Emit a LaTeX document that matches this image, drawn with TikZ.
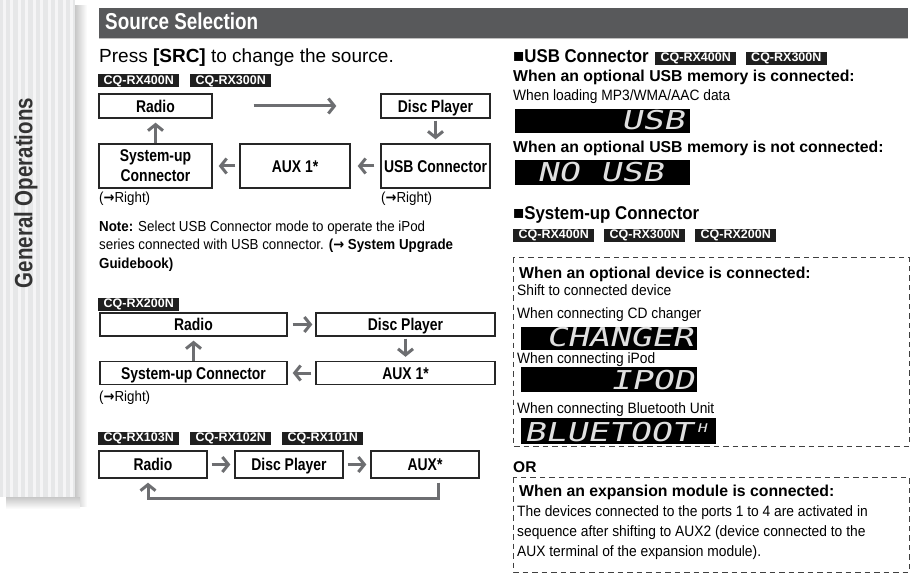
\documentclass[tikz,border=0pt]{standalone}
\usepackage{fontspec}
\setmainfont{Liberation Sans}
\newfontfamily\cond[FakeStretch=0.82]{Liberation Sans}
\newfontfamily\bodyf[FakeStretch=0.92]{Liberation Sans}
\newfontfamily\headf[FakeStretch=0.91]{Liberation Sans}
\newfontfamily\arrf[FakeStretch=0.9]{DejaVu Sans}
\newfontfamily\lcdf[FakeStretch=1.34,FakeSlant=0.22]{DejaVu Sans Mono}
\newcommand{\rarr}{{\arrf\bfseries →}}
\usetikzlibrary{arrows.meta}
\definecolor{hdr}{HTML}{58595B}
\definecolor{arr}{HTML}{6D6E71}
\definecolor{strA}{HTML}{E6E7E8}
\definecolor{strB}{HTML}{F5F5F6}
\tikzset{
  sbox/.style={draw=black!85, line width=1.4pt, fill=white, inner sep=0pt, align=center,
    font=\cond\bfseries\fontsize{17}{20}\selectfont},
  one/.style={text height=12.2pt, text depth=0pt},
  garr/.style={draw=arr, line width=3pt, -{Straight Barb[length=6pt,width=15pt]}},
  tag/.style={fill=black!88, text=white, font=\bfseries\fontsize{12.5}{12.5}\selectfont,
    inner xsep=5.5pt, inner ysep=0pt, minimum height=13pt, anchor=west},
  body/.style={anchor=base west, inner sep=0pt, font=\bodyf\fontsize{14.5}{17}\selectfont},
  rbody/.style={anchor=base west, inner sep=0pt, font=\bodyf\fontsize{15}{17}\selectfont},
  bbold/.style={anchor=base west, inner sep=0pt, font=\bfseries\fontsize{15.8}{18}\selectfont},
  rhead/.style={anchor=base west, inner sep=0pt, font=\headf\bfseries\fontsize{18.5}{20}\selectfont},
  lcdbar/.style={fill=black, draw=none, inner sep=0pt, anchor=north west},
  lcd/.style={anchor=base west, inner sep=0pt, text=white!88!black, font=\lcdf\fontsize{26}{26}\selectfont},
  dbox/.style={draw=black!75, line width=1pt, dash pattern=on 5.5pt off 4pt},
}
\begin{document}
\begin{tikzpicture}[x=1pt,y=-1pt]
\useasboundingbox (0,0) rectangle (910,588);
\fill[white] (0,0) rectangle (910,588);
% left strip
\shade[left color=black!22, right color=white] (75,6) rectangle (87,506);
\shade[top color=black!22, bottom color=white] (6,497) rectangle (80,509);
\fill[strA] (0,0) rectangle (75,497);
\foreach \i in {0,...,9} \fill[strB] (\i*7.5+2.5,0) rectangle ++(3.2,497);
\node[rotate=90, inner sep=0pt, text=black!80, font=\cond\bfseries\fontsize{25}{25}\selectfont] (side) at (26,193) {General Operations};
% header
\fill[hdr] (99,8) rectangle (908,38);
\fill[black!25] (99,38) rectangle (908,39.2);
\node[anchor=base west, inner sep=0pt, text=white, font=\cond\bfseries\fontsize{23}{23}\selectfont] (title) at (105,30) {Source Selection};
\node[anchor=base west, inner sep=0pt, font=\fontsize{19}{19}\selectfont] (press) at (99,63) {Press \textbf{[SRC]} to change the source.};
% diagram 1
\node[tag] (t1) at (98,81) {CQ-RX400N};
\node[tag] (t2) at (190,81) {CQ-RX300N};
\node[sbox, one, minimum width=113pt, minimum height=24pt] (r1) at (155.5,106) {Radio};
\node[sbox, one, minimum width=109pt, minimum height=24pt] (d1) at (435.5,106) {Disc Player};
\node[sbox, minimum width=113pt, minimum height=44pt] (s1) at (155.5,166) {System-up\\Connector};
\node[sbox, one, minimum width=110pt, minimum height=44pt] (a1) at (295,166) {AUX 1*};
\node[sbox, one, minimum width=109pt, minimum height=44pt] (u1) at (435.5,166) {USB Connector};
\draw[garr, shorten <=41pt, shorten >=44pt] (r1.east) -- (d1.west);
\draw[garr, shorten <=2pt, shorten >=4pt] (d1.south) -- (u1.north);
\draw[garr, shorten <=6pt, shorten >=7pt] (u1.west) -- (a1.east);
\draw[garr, shorten <=4pt, shorten >=6pt] (a1.west) -- (s1.east);
\draw[garr, shorten >=4pt] (s1.north) -- (r1.south);
\node[body] (rt1) at (99,203) {(\rarr Right)};
\node[body] (rt2) at (381,203) {(\rarr Right)};
\node[body] (n1) at (99,231) {\bfseries Note: \mdseries Select USB Connector mode to operate the iPod};
\node[body] (n2) at (99,249.5) {series connected with USB connector. \bfseries (\rarr\ System Upgrade};
\node[body] (n3) at (99,268) {\bfseries Guidebook)};
% diagram 2
\node[tag] (t3) at (98,304) {CQ-RX200N};
\node[sbox, one, minimum width=187pt, minimum height=23pt] (r2) at (193.5,324.5) {Radio};
\node[sbox, one, minimum width=179pt, minimum height=23pt] (d2) at (405.5,324.5) {Disc Player};
\node[sbox, one, minimum width=187pt, minimum height=23pt] (s2) at (193.5,373) {System-up Connector};
\node[sbox, one, minimum width=179pt, minimum height=23pt] (a2) at (405.5,373) {AUX 1*};
\draw[garr, shorten <=5pt, shorten >=3pt] (r2.east) -- (d2.west);
\draw[garr, shorten <=2pt, shorten >=4pt] (d2.south) -- (a2.north);
\draw[garr, shorten <=4pt, shorten >=5pt] (a2.west) -- (s2.east);
\draw[garr, shorten >=4pt] (s2.north) -- (r2.south);
\node[body] (rt3) at (99,401) {(\rarr Right)};
% diagram 3
\node[tag] (t4) at (98,438) {CQ-RX103N};
\node[tag] (t5) at (190,438) {CQ-RX102N};
\node[tag] (t6) at (282,438) {CQ-RX101N};
\node[sbox, one, minimum width=108pt, minimum height=27pt] (r3) at (153,464.5) {Radio};
\node[sbox, one, minimum width=108pt, minimum height=27pt] (d3) at (289,464.5) {Disc Player};
\node[sbox, one, minimum width=108pt, minimum height=27pt] (x3) at (425,464.5) {AUX*};
\draw[garr, shorten <=4pt, shorten >=4pt] (r3.east) -- (d3.west);
\draw[garr, shorten <=4pt, shorten >=4pt] (d3.east) -- (x3.west);
\draw[garr, shorten <=4pt, shorten >=4pt] ([xshift=13pt]x3.south) -- ++(0,20) -| ([xshift=-5pt]r3.south);
% right column: USB connector
\node[rhead] (h1) at (513,63) {{\rmfamily ■}USB Connector};
\node[tag, anchor=base west] (t7) at ([xshift=6pt,yshift=1.5pt]h1.base east) {CQ-RX400N};
\node[tag, anchor=base west] (t8) at ([xshift=9pt]t7.base east) {CQ-RX300N};
\node[bbold] (w1) at (513,82) {When an optional USB memory is connected:};
\node[rbody] (w2) at (513,101) {When loading MP3/WMA/AAC data};
\node[lcdbar, minimum width=175pt, minimum height=24pt] (lcd1) at (515,109) {};
\node[lcd] (lt1) at (621,130) {USB};
\node[bbold] (w3) at (513,153) {When an optional USB memory is not connected:};
\node[lcdbar, minimum width=175pt, minimum height=25pt] (lcd2) at (515,160) {};
\node[lcd] (lt2) at (537,182) {NO USB};
% system-up connector
\node[rhead] (h2) at (513,220) {{\rmfamily ■}System-up Connector};
\node[tag] (t9) at (513,235.5) {CQ-RX400N};
\node[tag] (t10) at (604,235.5) {CQ-RX300N};
\node[tag] (t11) at (695,235.5) {CQ-RX200N};
\draw[dbox] (513,257) rectangle (909,446);
\node[bbold] (w4) at (519,278) {When an optional device is connected:};
\node[rbody] (w5) at (517,295) {Shift to connected device};
\node[rbody] (w6) at (517,318) {When connecting CD changer};
\node[lcdbar, minimum width=176pt, minimum height=23pt] (lcd3) at (521,326.5) {};
\node[lcd] (lt3) at (546,346) {CHANGER};
\node[rbody] (w7) at (517,363) {When connecting iPod};
\node[lcdbar, minimum width=176pt, minimum height=25pt] (lcd4) at (521,367) {};
\node[lcd] (lt4) at (610,389) {IPOD};
\node[rbody] (w8) at (517,413) {When connecting Bluetooth Unit};
\node[lcdbar, minimum width=195pt, minimum height=26pt] (lcd5) at (521,418) {};
\node[lcd] (lt5) at (524,441) {BLUETOOT};
\node[anchor=base west, inner sep=0pt, text=white!88!black, font=\lcdf\fontsize{12}{12}\selectfont] (lt6) at (697,432) {H};
\node[anchor=base west, inner sep=0pt, font=\bfseries\fontsize{15.5}{15.5}\selectfont] (or) at (513,472) {OR};
\draw[dbox] (513,477) rectangle (909,572);
\node[bbold] (w9) at (519,496) {When an expansion module is connected:};
\node[rbody] (w10) at (517,516) {The devices connected to the ports 1 to 4 are activated in};
\node[rbody] (w11) at (517,536) {sequence after shifting to AUX2 (device connected to the};
\node[rbody] (w12) at (517,556) {AUX terminal of the expansion module).};
\end{tikzpicture}
\end{document}
